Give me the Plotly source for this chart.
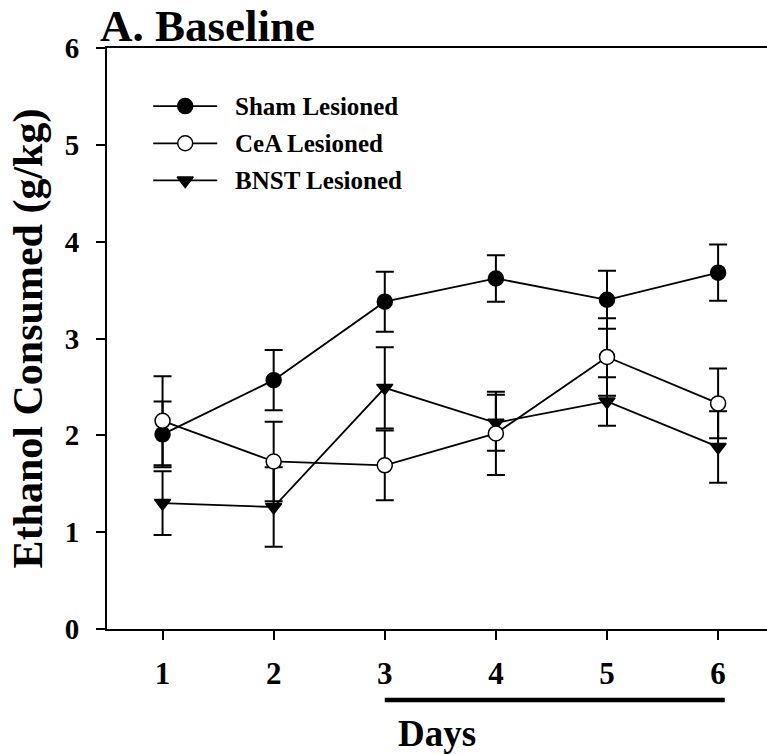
import plotly.graph_objects as go

# Baseline ethanol intake per lesion group (mean and SEM per day)
days = [1, 2, 3, 4, 5, 6]
sham_mean = [2.01, 2.57, 3.38, 3.62, 3.40, 3.68]
sham_sem = [0.34, 0.31, 0.31, 0.24, 0.30, 0.29]
cea_mean = [2.15, 1.73, 1.69, 2.02, 2.81, 2.33]
cea_sem = [0.46, 0.41, 0.36, 0.43, 0.40, 0.36]
bnst_mean = [1.30, 1.26, 2.49, 2.13, 2.35, 1.88]
bnst_sem = [0.33, 0.41, 0.42, 0.29, 0.25, 0.37]
y_ticks = [0, 1, 2, 3, 4, 5, 6]
underlined_days = [3, 6]

FONT = "Liberation Serif, Times New Roman, serif"
BLACK = "black"

groups = [
    # name, means, sems, symbol, fill
    ("Sham Lesioned", sham_mean, sham_sem, "circle", BLACK),
    ("BNST Lesioned", bnst_mean, bnst_sem, "triangle-down", BLACK),
    ("CeA Lesioned", cea_mean, cea_sem, "circle", "white"),
]
sizes = {"circle": 15, "triangle-down": 14}

fig = go.Figure()

for name, mean, sem, symbol, fill in groups:
    fig.add_trace(go.Scatter(
        x=days, y=mean, name=name, mode="lines+markers",
        line=dict(color=BLACK, width=1.8),
        marker=dict(symbol=symbol, size=sizes[symbol], color=fill,
                    line=dict(color=BLACK, width=1.5)),
        error_y=dict(type="data", array=sem, visible=True,
                     color=BLACK, thickness=2, width=9),
        showlegend=False,
    ))

# Key drawn on an overlay axis spanning the plotting area
legend_rows = [
    ("Sham Lesioned", "circle", BLACK, 0.900),
    ("CeA Lesioned", "circle", "white", 0.836),
    ("BNST Lesioned", "triangle-down", BLACK, 0.772),
]
for label, symbol, fill, ypos in legend_rows:
    fig.add_trace(go.Scatter(
        x=[0.070, 0.167], y=[ypos, ypos], mode="lines",
        line=dict(color=BLACK, width=1.8),
        xaxis="x2", yaxis="y2", showlegend=False, hoverinfo="skip",
    ))
    fig.add_trace(go.Scatter(
        x=[0.1185], y=[ypos], mode="markers",
        marker=dict(symbol=symbol, size=sizes[symbol], color=fill,
                    line=dict(color=BLACK, width=1.5)),
        xaxis="x2", yaxis="y2", showlegend=False, hoverinfo="skip",
    ))
    fig.add_annotation(
        x=0.191, y=ypos, xref="x2", yref="y2", text=label,
        showarrow=False, xanchor="left", yanchor="middle",
        font=dict(family=FONT, size=25, color=BLACK, weight="bold"),
    )

# Bar under the day labels marking days 3-6
fig.add_shape(
    type="line", xref="x", yref="paper",
    x0=underlined_days[0], x1=underlined_days[1] + 0.06,
    y0=-0.1224, y1=-0.1224,
    line=dict(color=BLACK, width=4.5),
)

axis_common = dict(
    showgrid=False, zeroline=False, showline=True, linecolor=BLACK,
    linewidth=2, ticks="outside", ticklen=9, tickwidth=1.5,
    tickcolor=BLACK, automargin=False,
)

fig.update_layout(
    width=767, height=754,
    margin=dict(l=107, r=0, t=48, b=125, autoexpand=False),
    paper_bgcolor="white", plot_bgcolor="white",
    title=dict(
        text="A. Baseline", x=100 / 767, xanchor="left", xref="container",
        y=1 - 25 / 754, yanchor="middle", yref="container",
        font=dict(family=FONT, size=45, color=BLACK, weight="bold"),
    ),
    xaxis=dict(
        range=[0.5, 6.44], tickvals=days, mirror=True,
        ticklabelstandoff=7,
        tickfont=dict(family=FONT, size=31, color=BLACK, weight="bold"),
        title=dict(text="Days", standoff=31,
                   font=dict(family=FONT, size=37, color=BLACK, weight="bold")),
        **axis_common,
    ),
    yaxis=dict(
        range=[0, 6], tickvals=y_ticks, mirror=False,
        ticklabelstandoff=11,
        tickfont=dict(family=FONT, size=29, color=BLACK, weight="bold"),
        title=dict(text="Ethanol Consumed (g/kg)", standoff=9,
                   font=dict(family=FONT, size=42, color=BLACK, weight="bold")),
        **axis_common,
    ),
    xaxis2=dict(range=[0, 1], overlaying="x", anchor="y2", visible=False,
                fixedrange=True),
    yaxis2=dict(range=[0, 1], overlaying="y", anchor="x2", visible=False,
                fixedrange=True),
)

fig.write_html("out.html")
